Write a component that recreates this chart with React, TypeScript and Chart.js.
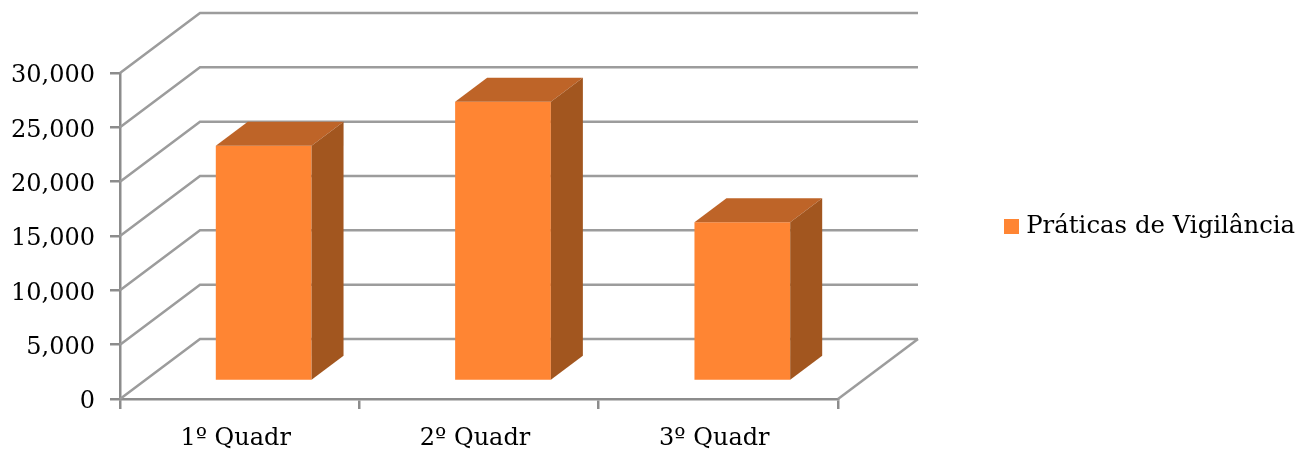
import React, { useEffect, useRef } from "react";
import { Chart, registerables } from "chart.js";

Chart.register(...registerables);

const categories = ["1º Quadr", "2º Quadr", "3º Quadr"];
const seriesName = "Práticas de Vigilância";
const values = [21650, 25700, 14600];
const yMax = 30000;
const yStep = 5000;

const FONT = "'DejaVu Serif', serif";
const FONT_SIZE = 24;
const FRONT = "#FF8533";
const SIDE = "#A2561F";
const TOP = "#BE6428";
const GRID = "#9C9C9C";
const AXIS = "#8C8C8C";
const WALL_DX = 80;
const WALL_DY = 60;
const BAR_DX = 32;
const BAR_DY = 24;
const BAR_SHIFT_X = 24;
const BAR_SHIFT_Y = 18;
const LEGEND_LEFT = 999;
const LEGEND_RAISE = 36;

const threeD = {
  id: "threeD",
  afterLayout(chart: any) {
    // keep the legend in its own column, clear of the reserved depth of the 3D walls
    const lg = chart.legend;
    lg.left = LEGEND_LEFT;
    lg.right = chart.width;
    lg.top -= LEGEND_RAISE;
    lg.bottom -= LEGEND_RAISE;
  },
  beforeDatasetsDraw(chart: any) {
    const { ctx, scales } = chart;
    const x = scales.x;
    const y = scales.y;
    ctx.save();
    ctx.strokeStyle = GRID;
    ctx.lineWidth = 2.5;
    for (let v = 0; v <= yMax; v += yStep) {
      const py = y.getPixelForValue(v);
      ctx.beginPath();
      ctx.moveTo(x.left, py);
      ctx.lineTo(x.left + WALL_DX, py - WALL_DY);
      ctx.lineTo(x.right + WALL_DX, py - WALL_DY);
      ctx.stroke();
    }
    const py0 = y.getPixelForValue(0);
    ctx.beginPath();
    ctx.moveTo(x.right, py0);
    ctx.lineTo(x.right + WALL_DX, py0 - WALL_DY);
    ctx.stroke();
    ctx.restore();
    ctx.save();
    ctx.translate(BAR_SHIFT_X, -BAR_SHIFT_Y);
  },
  afterDatasetsDraw(chart: any) {
    const { ctx } = chart;
    ctx.restore();
    const bars = chart.getDatasetMeta(0).data;
    ctx.save();
    bars.forEach((b: any) => {
      const p = b.getProps(["x", "y", "base", "width"], true);
      const l = p.x - p.width / 2 + BAR_SHIFT_X;
      const r = p.x + p.width / 2 + BAR_SHIFT_X;
      const t = p.y - BAR_SHIFT_Y;
      const bt = p.base - BAR_SHIFT_Y;
      ctx.fillStyle = TOP;
      ctx.beginPath();
      ctx.moveTo(l, t);
      ctx.lineTo(l + BAR_DX, t - BAR_DY);
      ctx.lineTo(r + BAR_DX, t - BAR_DY);
      ctx.lineTo(r, t);
      ctx.closePath();
      ctx.fill();
      ctx.fillStyle = SIDE;
      ctx.beginPath();
      ctx.moveTo(r, t);
      ctx.lineTo(r + BAR_DX, t - BAR_DY);
      ctx.lineTo(r + BAR_DX, bt - BAR_DY);
      ctx.lineTo(r, bt);
      ctx.closePath();
      ctx.fill();
    });
    ctx.restore();
  },
};

export default function App() {
  const ref = useRef<HTMLCanvasElement>(null);
  useEffect(() => {
    const chart = new Chart(ref.current!, {
      type: "bar",
      data: {
        labels: categories,
        datasets: [
          {
            label: seriesName,
            data: values,
            backgroundColor: FRONT,
            barPercentage: 0.4,
            categoryPercentage: 1,
            clip: false as any,
          },
        ],
      },
      plugins: [threeD],
      options: {
        responsive: false,
        animation: false,
        devicePixelRatio: 1,
        layout: { padding: { top: 73, bottom: 0, left: 0, right: 183.67 } },
        plugins: {
          tooltip: { enabled: false },
          legend: {
            position: "right",
            labels: {
              color: "#000",
              font: { family: FONT, size: 24.4 },
              boxWidth: 5,
              boxHeight: 5,
              padding: 10,
              generateLabels: () => [
                {
                  text: seriesName,
                  fillStyle: FRONT,
                  strokeStyle: FRONT,
                  lineWidth: 10,
                  hidden: false,
                  datasetIndex: 0,
                },
              ],
            },
          },
        },
        scales: {
          x: {
            grid: {
              drawOnChartArea: false,
              drawTicks: true,
              tickLength: 10,
              color: AXIS,
              lineWidth: 2.5,
            },
            border: { color: AXIS, width: 2.5 },
            ticks: {
              color: "#000",
              font: { family: FONT, size: FONT_SIZE },
              padding: 15,
              labelOffset: -4,
              maxRotation: 0,
            },
            afterFit: (s: any) => {
              s.height = 53;
            },
          },
          y: {
            min: 0,
            max: yMax,
            grid: {
              drawOnChartArea: false,
              drawTicks: true,
              tickLength: 10,
              color: AXIS,
              lineWidth: 2.5,
            },
            border: { color: AXIS, width: 2.5 },
            ticks: {
              stepSize: yStep,
              color: "#000",
              font: { family: FONT, size: FONT_SIZE },
              padding: 15,
              labelOffset: 3,
              callback: (v: any) => Number(v).toLocaleString("en-US"),
            },
            afterFit: (s: any) => {
              s.width = 120;
            },
          },
        },
      },
    } as any);
    return () => chart.destroy();
  }, []);
  return (
    <div style={{ position: "fixed", left: 0, top: 0, width: 1301, height: 452, background: "#fff" }}>
      <canvas ref={ref} width={1301} height={452} style={{ display: "block", filter: "blur(0.5px)" }} />
    </div>
  );
}
